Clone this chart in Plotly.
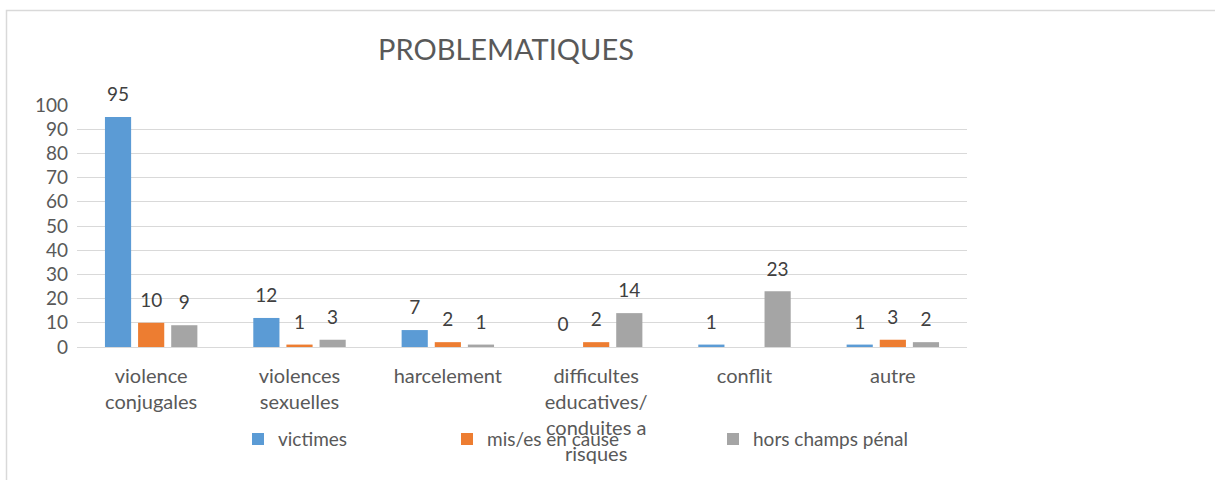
import plotly.graph_objects as go

categories = ["violence<br>conjugales", "violences<br>sexuelles", "harcelement",
              "difficultes<br>educatives/<br>conduites a<br>risques", "conflit", "autre"]
victimes = [95, 12, 7, 0, 1, 1]
mis_en_cause = [10, 1, 2, 2, None, 3]
hors_champs = [9, 3, 1, 14, 23, 2]
y_ticks = [0, 10, 20, 30, 40, 50, 60, 70, 80, 90, 100]

FONT = "Lato"
TXT = "#595959"

def lbl(vals):
    return ["" if v is None else str(v) for v in vals]

fig = go.Figure()
series = [
    ("victimes", victimes, "#5B9BD5", "legend"),
    ("mis/es en cause", mis_en_cause, "#ED7D31", "legend2"),
    ("hors champs pénal", hors_champs, "#A5A5A5", "legend3"),
]
for i, (name, vals, col, lg) in enumerate(series):
    fig.add_trace(go.Bar(
        x=categories, y=vals, name=name, marker_color=col,
        marker_line_width=0, legend=lg,
        offsetgroup=str(i), alignmentgroup="a",
    ))
for i, (name, vals, col, lg) in enumerate(series):
    fig.add_trace(go.Scatter(
        x=categories, y=vals, mode="markers+text", text=lbl(vals),
        textposition="top center", cliponaxis=False,
        marker=dict(size=16, color="rgba(0,0,0,0)"),
        textfont=dict(family=FONT, size=19, color="#404040"),
        showlegend=False, hoverinfo="skip",
        offsetgroup=str(i), alignmentgroup="a",
    ))

L, R, T, B = 77, 967, 104.7, 347.5
W, H = 1215, 480
pw, ph = R - L, B - T

def px_x(p):
    return (p - L) / pw

def px_y(p):
    return (B - p) / ph

leg_common = dict(orientation="h", yanchor="middle", xanchor="left",
                  font=dict(family=FONT, size=19, color=TXT),
                  bgcolor="rgba(0,0,0,0)", itemsizing="constant")

fig.update_layout(
    width=W, height=H,
    margin=dict(l=L, r=W - R, t=T, b=H - B, pad=0),
    paper_bgcolor="white", plot_bgcolor="white",
    barmode="group", bargap=0.33, bargroupgap=0.21,
    scattermode="group", scattergap=0.33,
    title=dict(text="PROBLEMATIQUES", x=px_x(506), xref="paper", xanchor="center",
               y=1 - 50 / H, yanchor="middle",
               font=dict(family=FONT, size=29, color=TXT)),
    font=dict(family=FONT, size=19, color=TXT),
    legend=dict(x=px_x(238), y=px_y(440), **leg_common),
    legend2=dict(x=px_x(447), y=px_y(440), **leg_common),
    legend3=dict(x=px_x(713), y=px_y(440), **leg_common),
    showlegend=True,
    shapes=[dict(type="rect", xref="paper", yref="paper",
                 x0=px_x(6.5), x1=px_x(1230), y0=px_y(500), y1=px_y(10),
                 line=dict(color="#D9D9D9", width=1.5), fillcolor="rgba(0,0,0,0)",
                 layer="below")],
)
fig.update_xaxes(showgrid=False, showline=False, zeroline=False,
                 tickfont=dict(family=FONT, size=20, color=TXT),
                 ticks="", ticklabelstandoff=15)
fig.update_yaxes(range=[0, 100], tickvals=y_ticks, showgrid=True, gridcolor="#D9D9D9",
                 gridwidth=1, zeroline=True, zerolinecolor="#D9D9D9", zerolinewidth=1,
                 showline=False, ticks="", ticklabelstandoff=8,
                 tickfont=dict(family=FONT, size=19, color=TXT))

fig.write_html("out.html", config={"displayModeBar": False},
               post_script="document.body.style.margin='0';")
